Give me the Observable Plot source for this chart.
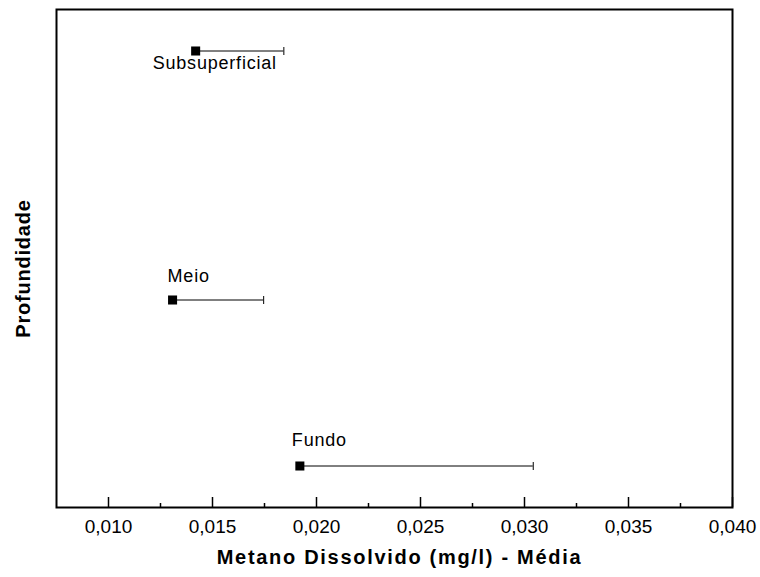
<!DOCTYPE html>
<html><head><meta charset="utf-8">
<script src="https://cdn.jsdelivr.net/npm/d3@7"></script>
<script src="https://cdn.jsdelivr.net/npm/@observablehq/plot@0.6"></script>
<style>
body{margin:0;background:#fff;}
#chart svg{font-family:"Liberation Sans",Arial,sans-serif;}
</style>
</head><body><div id="chart"></div>
<script>
const categories = ["Subsuperficial", "Meio", "Fundo"];
const depthPosition = [1, 4, 6];
const meanValues = [0.01419, 0.01308, 0.01920];
const upperValues = [0.01843, 0.01746, 0.03042];
const majorTicks = [0.010, 0.015, 0.020, 0.025, 0.030, 0.035, 0.040];
const minorTicks = [0.0125, 0.0175, 0.0225, 0.0275, 0.0325, 0.0375];
const xTitle = "Metano Dissolvido (mg/l) - Média";
const yTitle = "Profundidade";

const data = categories.map((c, i) => ({cat: c, y: depthPosition[i], mean: meanValues[i], upper: upperValues[i]}));
const labelOffset = {Subsuperficial: [-43, 12], Meio: [-5, -24], Fundo: [-8, -26]};
const capSymbol = {draw(ctx) { ctx.moveTo(0, -4); ctx.lineTo(0, 4); }};
const fmt = d => d3.format(".3f")(d).replace(".", ",");

const chart = Plot.plot({
  width: 760,
  height: 577,
  marginLeft: 56,
  marginRight: 28,
  marginTop: 9,
  marginBottom: 70,
  style: {fontFamily: '"Liberation Sans", Arial, sans-serif', background: "#fff", color: "#000"},
  x: {domain: [0.0075, 0.040], axis: null},
  y: {domain: [0.5, 6.5], reverse: true, axis: null},
  marks: [
    Plot.axisX({ticks: majorTicks, tickSize: 10, dy: -10, tickFormat: () => "", strokeWidth: 1.5, label: null}),
    Plot.axisX({ticks: minorTicks, tickSize: 4, dy: -4, tickFormat: () => "", strokeWidth: 1.5, label: null}),
    Plot.axisX({ticks: majorTicks, tickSize: 0, tickPadding: 12, tickFormat: fmt, fontSize: 19, label: null}),
    Plot.ruleY(data, {y: "y", x1: "mean", x2: "upper", stroke: "black", strokeWidth: 1}),
    Plot.dot(data, {x: "upper", y: "y", symbol: capSymbol, stroke: "black", strokeWidth: 1, fill: "none"}),
    Plot.dot(data, {x: "mean", y: "y", symbol: "square", r: 5.1, fill: "black", stroke: "none"}),
    ...categories.map(c => Plot.text(data.filter(d => d.cat === c), {
      x: "mean", y: "y", text: "cat", textAnchor: "start",
      dx: labelOffset[c][0], dy: labelOffset[c][1], fontSize: 18, fill: "black"
    })),
    Plot.text([xTitle], {text: d => d, frameAnchor: "bottom", textAnchor: "middle", dy: 56, dx: 5, fontSize: 20, fontWeight: "bold", fill: "black"}),
    Plot.text([yTitle], {text: d => d, frameAnchor: "left", textAnchor: "middle", rotate: -90, dx: -33, dy: 10, fontSize: 20, fontWeight: "bold", fill: "black"}),
    Plot.frame({stroke: "black", strokeWidth: 2})
  ]
});
document.getElementById("chart").appendChild(chart);

const spacing = new Map([[xTitle, "1.7px"], [yTitle, "0.8px"], ...categories.map(c => [c, "0.8px"])]);
d3.select(chart).selectAll("text").each(function () {
  const s = spacing.get(this.textContent);
  if (s) this.setAttribute("letter-spacing", s);
});
</script>
</body></html>
